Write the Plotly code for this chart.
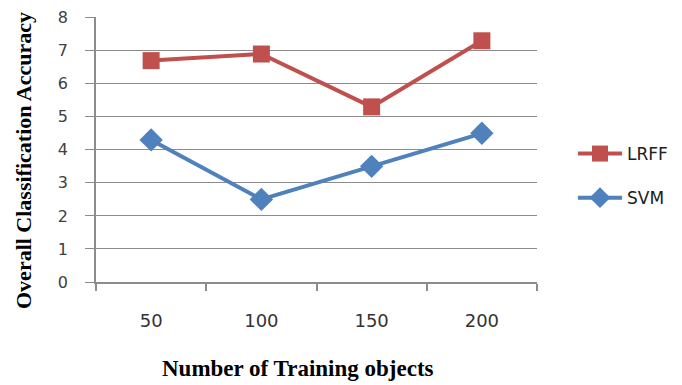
import plotly.graph_objects as go

categories = ["50", "100", "150", "200"]
lrff = [6.7, 6.9, 5.3, 7.3]
svm = [4.3, 2.5, 3.5, 4.5]
y_ticks = [0, 1, 2, 3, 4, 5, 6, 7, 8]

fig = go.Figure()
fig.add_trace(go.Scatter(
    x=categories, y=lrff, name="LRFF", mode="lines+markers",
    line=dict(color="#C0504D", width=4),
    marker=dict(symbol="square", size=17, color="#C0504D"),
    legendgroup="a",
))
fig.add_trace(go.Scatter(
    x=categories, y=svm, name="SVM", mode="lines+markers",
    line=dict(color="#4F81BD", width=4),
    marker=dict(symbol="diamond", size=18, color="#4F81BD"),
    legendgroup="b",
))

grid = "#8c8c8c"
# page body has an 8px default margin, so plot box is offset by that
L, T, PW, PH = 88, 9, 441, 265
fig.update_layout(
    width=682, height=385,
    margin=dict(l=L, r=682 - L - PW, t=T, b=385 - T - PH, autoexpand=False),
    paper_bgcolor="white", plot_bgcolor="white",
    font=dict(family="DejaVu Sans", size=13, color="#404040"),
    showlegend=True,
    legend=dict(
        x=(578 - 96 - 5) / PW, y=(282 - 176) / PH, xanchor="left", yanchor="middle",
        font=dict(family="DejaVu Sans", size=17, color="#202020"),
        tracegroupgap=19, itemwidth=44,
        bgcolor="rgba(0,0,0,0)",
    ),
    xaxis=dict(
        type="category", range=[-0.5, 3.5], tickson="boundaries",
        showgrid=False, showline=True, linecolor=grid, linewidth=1.5,
        ticks="outside", ticklen=7, tickcolor=grid, tickwidth=1.5,
        tickfont=dict(size=18, color="#333333"),
        ticklabelstandoff=22, automargin=False,
        zeroline=False,
    ),
    yaxis=dict(
        range=[0, 8.02], tickvals=y_ticks,
        showgrid=True, gridcolor=grid, gridwidth=1.2,
        showline=True, linecolor=grid, linewidth=1.5,
        ticks="outside", ticklen=9, tickcolor=grid, tickwidth=1.2,
        tickfont=dict(size=16, color="#404040"),
        ticklabelstandoff=14, automargin=False,
        zeroline=False,
    ),
    annotations=[
        dict(text="<b>Number of Training objects</b>",
             x=(298 - 96) / PW, y=(282 - 368) / PH,
             xref="paper", yref="paper", xanchor="center", yanchor="middle",
             showarrow=False,
             font=dict(family="Liberation Serif", size=23, color="black")),
        dict(text="<b>Overall Classification Accuracy</b>",
             x=(23 - 96) / PW, y=(282 - 161) / PH,
             xref="paper", yref="paper", xanchor="center", yanchor="middle",
             showarrow=False, textangle=-90,
             font=dict(family="Liberation Serif", size=22, color="black")),
    ],
)

fig.write_html("out.html")
